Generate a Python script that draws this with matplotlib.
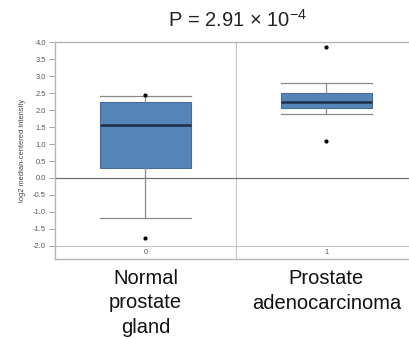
import matplotlib
matplotlib.use("Agg")
import matplotlib.pyplot as plt
import matplotlib.transforms as mtransforms

plt.rcParams["font.family"] = ["Liberation Sans", "DejaVu Sans"]
plt.rcParams["mathtext.fontset"] = "custom"
plt.rcParams["mathtext.rm"] = "Liberation Sans"

# values (log2 median-centered intensity)
groups = ["Normal\nprostate\ngland", "Prostate\nadenocarcinoma"]
group_ids = ["0", "1"]
q1 = [0.29, 2.05]
median = [1.55, 2.24]
q3 = [2.24, 2.50]
whislo = [-1.19, 1.88]
whishi = [2.42, 2.81]
fliers = [[2.45, -1.77], [3.86, 1.09]]
yticks = [-2.0, -1.5, -1.0, -0.5, 0.0, 0.5, 1.0, 1.5, 2.0, 2.5, 3.0, 3.5, 4.0]

stats = [
    dict(q1=q1[i], med=median[i], q3=q3[i], whislo=whislo[i], whishi=whishi[i], fliers=fliers[i])
    for i in range(len(groups))
]

fig = plt.figure(figsize=(4.10, 3.39), dpi=100)
W, H = 410, 339
# axes box in pixel units: left 55, right 417 (cropped), top 42, bottom 259
ax = fig.add_axes([55 / W, 1 - 259 / H, (417 - 55) / W, (259 - 42) / H])

ax.bxp(
    stats, positions=[0, 1], widths=0.5, capwidths=0.5, patch_artist=True,
    boxprops=dict(facecolor="#5585b8", edgecolor="#4a6c94", linewidth=0.8),
    medianprops=dict(color="#1e2e4a", linewidth=1.8),
    whiskerprops=dict(color="#8a8a8a", linewidth=0.9),
    capprops=dict(color="#8a8a8a", linewidth=0.9),
    flierprops=dict(marker="o", markersize=2.0, markerfacecolor="black", markeredgecolor="black"),
    zorder=3,
)

ax.set_xlim(-0.5, 1.5)
ax.set_ylim(-2.39, 4.01)
ax.set_xticks([])
ax.set_yticks(yticks)
ax.set_yticklabels([f"{t:.1f}" for t in yticks], fontsize=5.4, color="#555555")
ax.tick_params(axis="y", length=4, width=0.6, color="#999999", pad=2.5)
for s in ax.spines.values():
    s.set_color("#b5b5b5")
    s.set_linewidth(1.0)

ax.axhline(0.0, color="#707070", linewidth=0.9, zorder=2)
ax.axhline(-2.0, color="#c4c4c4", linewidth=0.8, zorder=1)
ax.axvline(0.5, color="#c4c4c4", linewidth=0.8, zorder=1)
for i, gid in enumerate(group_ids):
    ax.text(i, -2.2, gid, ha="center", va="center", fontsize=5.2, color="#555555")

ax.set_ylabel("log2 median-centered intensity", fontsize=5.4, color="#444444", labelpad=5)

fig.text(237 / W, 1 - 20 / H, r"P = 2.91 × 10$^{\mathregular{-4}}$",
         ha="center", va="center", fontsize=14.5, color="#222222")

trans = mtransforms.blended_transform_factory(ax.transData, fig.transFigure)
label_centres = [303, 291]
for i, name in enumerate(groups):
    ax.text(i, 1 - label_centres[i] / H, name, transform=trans, ha="center", va="center",
            fontsize=14.5, linespacing=1.36, color="#111111")

fig.savefig("out.png", dpi=100)
